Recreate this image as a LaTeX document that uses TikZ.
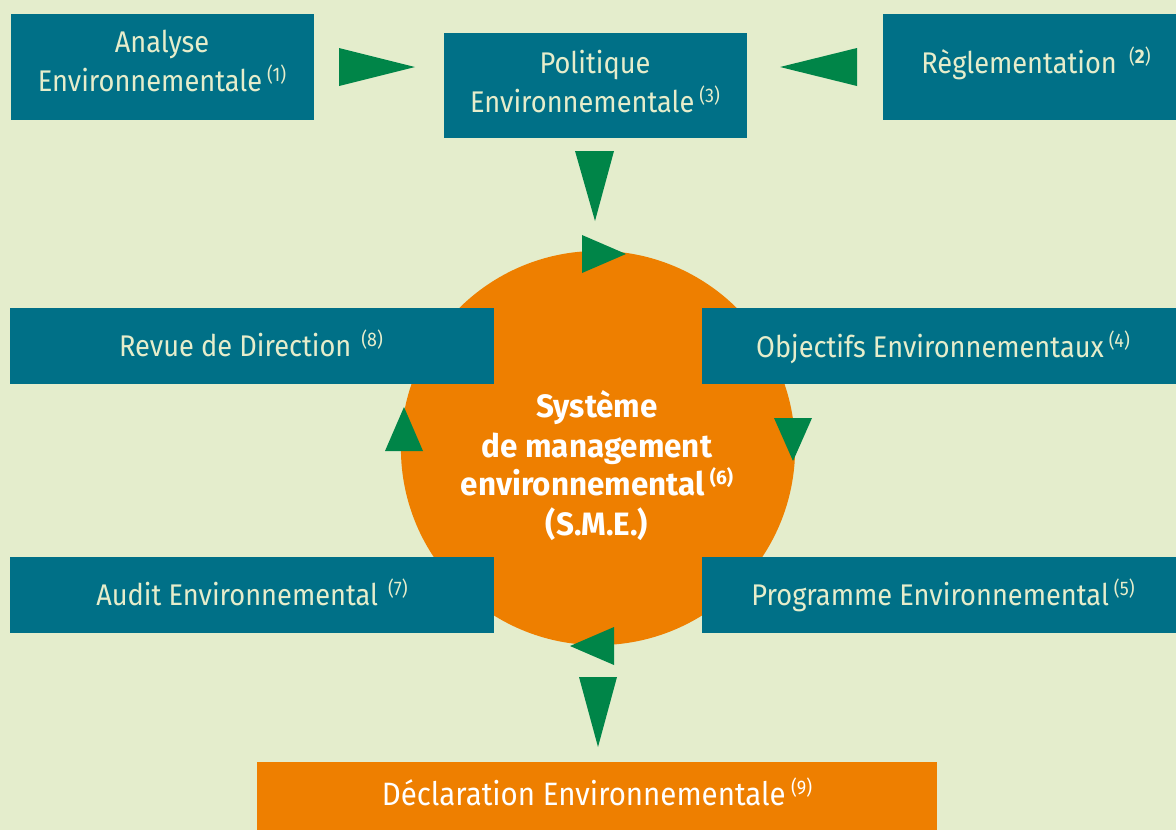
\documentclass[tikz,border=0pt]{standalone}
\usepackage{fontspec}
\setmainfont{Fira Sans}[UprightFeatures={FakeStretch=0.91}, BoldFeatures={FakeStretch=0.97}]
\usetikzlibrary{fit}
\definecolor{bgc}{HTML}{E4EDCC}
\definecolor{tealc}{HTML}{007087}
\definecolor{greenc}{HTML}{008548}
\definecolor{orangec}{HTML}{EE7F00}
\definecolor{creamc}{HTML}{E6EDCB}
\newcommand{\supn}[1]{\,\raisebox{0.6ex}{\fontsize{5.6}{6}\selectfont(#1)}}
\tikzset{
  box/.style={fill=tealc, inner sep=0pt, outer sep=0pt, draw=none},
  obox/.style={fill=orangec, inner sep=0pt, outer sep=0pt, draw=none},
  lbl/.style={text=creamc, font=\fontsize{8.5}{10}\selectfont, inner sep=0pt, anchor=base},
  wlbl/.style={text=white, font=\fontsize{9.2}{10}\selectfont, inner sep=0pt, anchor=base},
  ctr/.style={text=white, font=\bfseries\fontsize{9.2}{10}\selectfont, inner sep=0pt, anchor=base},
  tri/.style={fill=greenc, draw=none}
}
\begin{document}
\begin{tikzpicture}[x=0.01cm, y=-0.01cm]
\fill[bgc] (0,0) rectangle (1176,830);
\useasboundingbox (0,0) rectangle (1176,830);
% central circle
\node (sme) [circle, fill=orangec, minimum size=3.94cm, inner sep=0pt] at (598,448) {};
% boxes
\node (ana) [box, fit={(11,14) (314,120)}] {};
\node (pol) [box, fit={(444,33) (747,138)}] {};
\node (reg) [box, fit={(883,14) (1176,120)}] {};
\node (rev) [box, fit={(10,308) (494,384)}] {};
\node (obj) [box, fit={(702,308) (1176,384)}] {};
\node (aud) [box, fit={(10,557) (494,633)}] {};
\node (pro) [box, fit={(702,557) (1176,633)}] {};
\node (dec) [obox, fit={(257,762) (937,830)}] {};
% labels
\node[lbl] (anaA) at (162,52) {Analyse};
\node[lbl] (anaB) at (162,91) {Environnementale\supn{1}};
\node[lbl] (polA) at (595,73) {Politique};
\node[lbl] (polB) at (595,112) {Environnementale\supn{3}};
\node[lbl] (regA) at (1036,73) {Règlementation \supn{\textbf{2}}};
\node[lbl] (revA) at (251,356) {Revue de Direction\,\supn{8}};
\node[lbl] (objA) at (943,357) {Objectifs Environnementaux\supn{4}};
\node[lbl] (audA) at (252,605) {Audit Environnemental\,\supn{7}};
\node[lbl] (proA) at (943,605) {Programme Environnemental\supn{5}};
\node[wlbl] (decA) at (597,805) {Déclaration Environnementale\supn{9}};
\node[ctr] (c1) at (597,417) {Système};
\node[ctr] (c2) at (597,457) {de management};
\node[ctr] (c3) at (597,495) {environnemental\supn{\textbf{6}}};
\node[ctr] (c4) at (597,535) {(S.M.E.)};
% triangles
\fill[tri] (339,48) -- (339,86) -- (415,67) -- cycle;
\fill[tri] (857,48) -- (857,86) -- (780,67) -- cycle;
\fill[tri] (575,151) -- (614,151) -- (595,221) -- cycle;
\fill[tri] (582,235) -- (582,273) -- (626,254) -- cycle;
\fill[tri] (774,418) -- (812,418) -- (793,461) -- cycle;
\fill[tri] (614,627) -- (614,665) -- (570,646) -- cycle;
\fill[tri] (385,451) -- (423,451) -- (404,407) -- cycle;
\fill[tri] (579,677) -- (617,677) -- (598,747) -- cycle;
\end{tikzpicture}
\end{document}
